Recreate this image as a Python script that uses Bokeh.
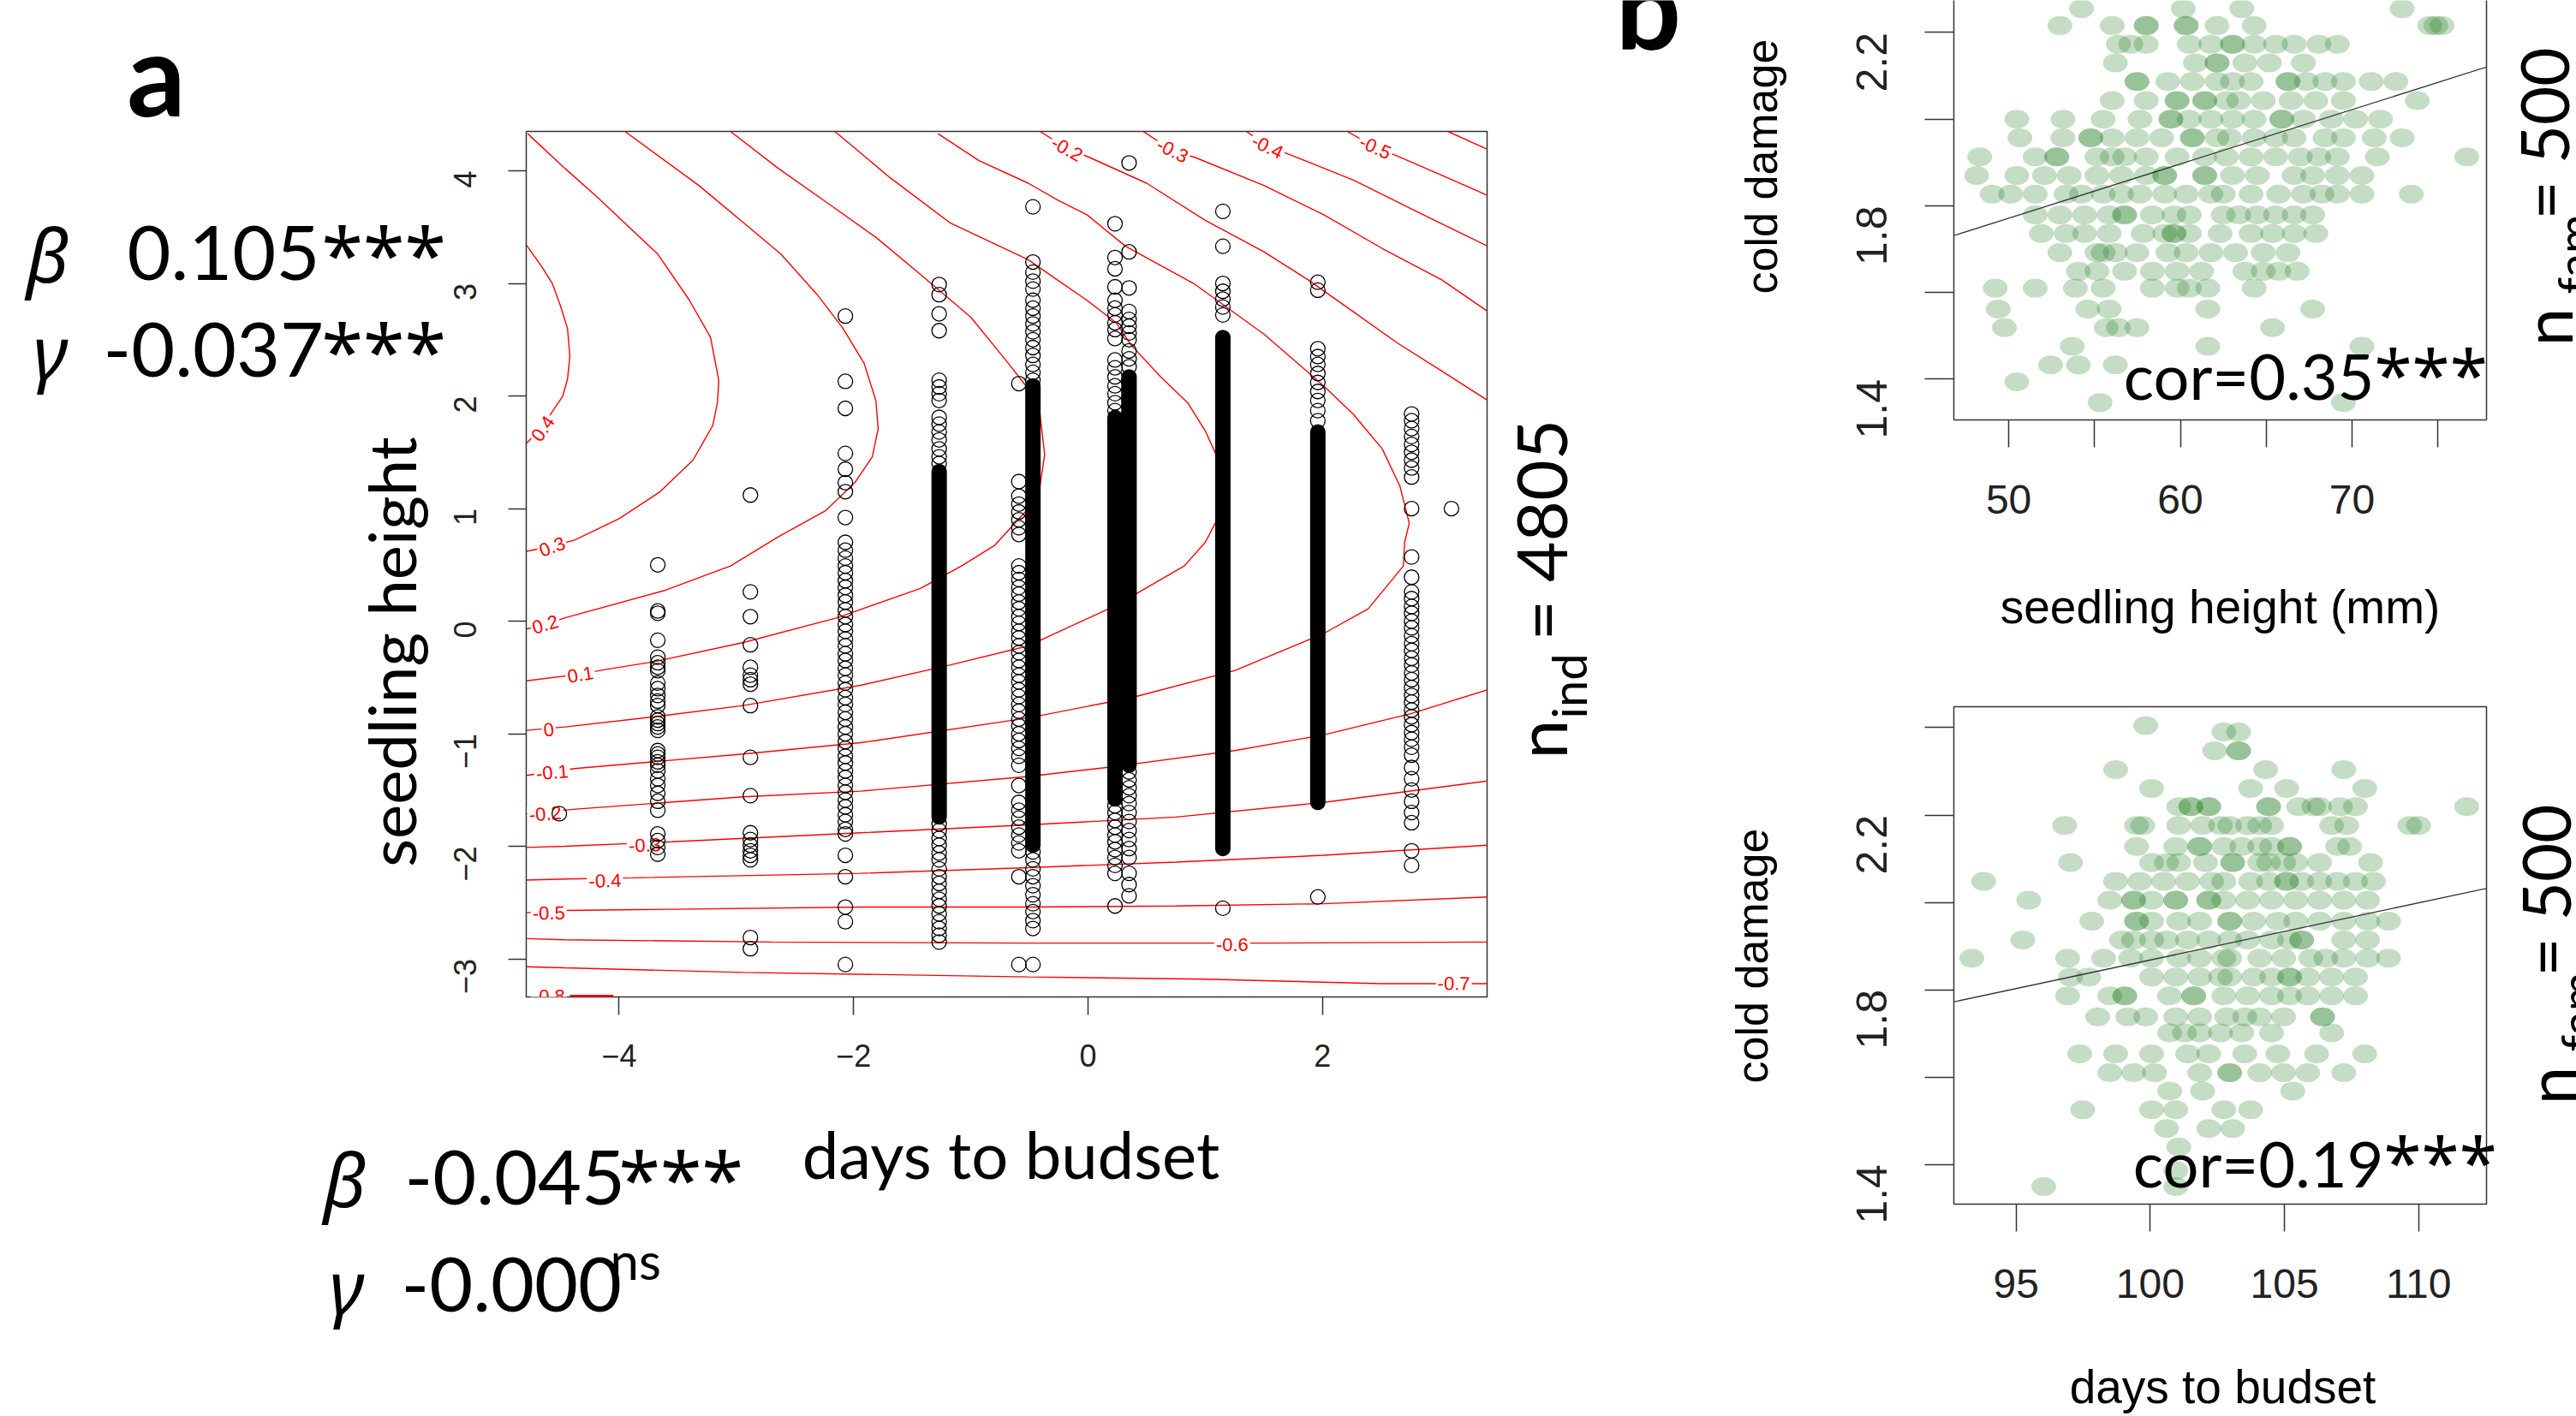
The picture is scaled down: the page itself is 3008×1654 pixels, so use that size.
import math
from bokeh.plotting import figure
from bokeh.models import FixedTicker, LinearAxis, Slope, GridBox, ColumnDataSource
from bokeh.layouts import row, column
from bokeh.embed import file_html
from bokeh.resources import INLINE
from bokeh.core.properties import value

# ---------------- Panel a : individual seedlings ----------------
a_col_x = [-4.51, -3.67, -2.88, -2.07, -1.27, -0.59, -0.47, 0.23, 0.35, 1.15, 1.96, 2.76, 3.10]
a_col_y = [
    [-1.71],
    [0.50, 0.09, 0.07, -0.17, -0.32, -0.37, -0.41, -0.44, -0.55, -0.60, -0.66, -0.71, -0.75, -0.85, -0.88,
     -0.91, -0.94, -0.97, -1.15, -1.18, -1.21, -1.25, -1.28, -1.33, -1.40, -1.46, -1.53, -1.60, -1.68,
     -1.89, -1.95, -2.01, -2.07],
    [1.12, 0.26, 0.04, -0.21, -0.41, -0.48, -0.52, -0.56, -0.75, -1.21, -1.55, -1.88, -1.94, -1.99, -2.04,
     -2.08, -2.12, -2.81, -2.91],
    [2.71, 2.13, 1.89, 1.49, 1.35, 1.23, 1.15, 0.92, 0.70, 0.63, 0.56, 0.49, 0.43, 0.36, 0.30, 0.23, 0.17,
     0.10, 0.04, -0.03, -0.09, -0.16, -0.22, -0.29, -0.35, -0.42, -0.48, -0.55, -0.61, -0.68, -0.74, -0.81,
     -0.87, -0.94, -1.00, -1.07, -1.13, -1.20, -1.26, -1.33, -1.39, -1.46, -1.52, -1.59, -1.65, -1.72,
     -1.78, -1.85, -1.89, -2.08, -2.27, -2.54, -2.67, -3.05],
    [2.99, 2.90, 2.73, 2.58, 2.14, 2.08, 2.02, 1.96, 1.81, 1.75, 1.68, 1.61, 1.53, 1.46, 1.40, -1.80, -1.86,
     -1.93, -1.99, -2.06, -2.12, -2.20, -2.27, -2.33, -2.40, -2.47, -2.53, -2.60, -2.67, -2.73, -2.79, -2.85],
    [2.11, 1.24, 1.11, 1.04, 0.97, 0.90, 0.83, 0.77, 0.49, 0.43, 0.37, 0.30, 0.24, 0.17, 0.11, 0.04, -0.02,
     -0.09, -0.15, -0.22, -0.28, -0.35, -0.41, -0.48, -0.54, -0.61, -0.67, -0.74, -0.80, -0.87, -0.93,
     -1.00, -1.06, -1.13, -1.20, -1.28, -1.46, -1.61, -1.68, -1.75, -1.83, -1.90, -1.97, -2.04, -2.27, -3.05],
    [3.68, 3.19, 3.10, 3.02, 2.95, 2.85, 2.78, 2.71, 2.64, 2.57, 2.50, 2.43, 2.36, 2.28, 2.21, 2.14, -2.05,
     -2.12, -2.20, -2.27, -2.35, -2.43, -2.51, -2.58, -2.66, -2.73, -3.05],
    [3.53, 3.23, 3.13, 2.97, 2.85, 2.78, 2.72, 2.65, 2.59, 2.51, 2.32, 2.25, 2.17, 2.09, 2.02, 1.94, 1.87,
     -1.64, -1.70, -1.77, -1.83, -1.90, -1.96, -2.03, -2.10, -2.17, -2.24, -2.53],
    [4.07, 3.28, 2.96, 2.75, 2.68, 2.62, 2.56, 2.50, 2.40, 2.33, 2.26, -1.34, -1.41, -1.48, -1.55, -1.62,
     -1.70, -1.78, -1.86, -1.94, -2.02, -2.10, -2.24, -2.34, -2.44],
    [3.64, 3.33, 3.00, 2.93, 2.86, 2.79, 2.72, -2.55],
    [3.01, 2.94, 2.42, 2.35, 2.28, 2.20, 2.12, 2.04, 1.96, 1.87, 1.78, -2.45],
    [1.84, 1.78, 1.71, 1.64, 1.57, 1.50, 1.43, 1.36, 1.28, 1.00, 0.57, 0.39, 0.26, 0.20, 0.13, 0.07, 0.00,
     -0.06, -0.13, -0.20, -0.26, -0.33, -0.39, -0.46, -0.52, -0.59, -0.66, -0.72, -0.79, -0.85, -0.92,
     -0.99, -1.05, -1.12, -1.19, -1.30, -1.40, -1.50, -1.60, -1.70, -1.79, -2.04, -2.17],
    [1.00],
]
# stretches where the circles overlap into a solid black bar
a_dense_x = [-1.27, -0.47, 0.23, 0.35, 1.15, 1.96]
a_dense_lo = [-1.74, -1.99, -1.58, -1.28, -2.02, -1.61]
a_dense_hi = [1.33, 2.09, 1.81, 2.17, 2.52, 1.68]

# fitness-surface contour lines (traced)
contour_xs = [
    [-4.79, -4.66, -4.57, -4.50, -4.44, -4.42, -4.44, -4.48, -4.57, -4.66, -4.79],
    [-4.78, -4.46, -4.18, -3.67, -3.40, -3.22, -3.15, -3.16, -3.20, -3.37, -3.65, -4.00, -4.38, -4.60, -4.79],
    [-3.95, -3.32, -2.94, -2.62, -2.31, -2.09, -1.91, -1.81, -1.79, -1.84, -1.99, -2.24, -2.64, -3.05, -3.62,
     -4.46, -4.63, -4.79],
    [-3.05, -2.64, -2.19, -1.81, -1.43, -1.00, -0.68, -0.53, -0.41, -0.37, -0.41, -0.51, -0.80, -1.08, -1.43,
     -2.14, -2.94, -3.70, -4.12, -4.33, -4.79],
    [-2.16, -1.69, -1.18, -0.51, -0.26, -0.01, 0.24, 0.37, 0.62, 0.85, 1.00, 1.10, 1.14, 1.10, 1.00, 0.82,
     0.24, -0.51, -1.18, -1.94, -2.94, -3.70, -4.46, -4.79],
    [-1.28, -0.93, -0.51, -0.26, -0.01, 0.32, 0.90, 1.50, 2.01, 2.26, 2.51, 2.66, 2.74, 2.70, 2.69, 2.39,
     2.01, 1.25, 0.37, -0.51, -1.94, -2.94, -4.38, -4.79],
    [-0.41, -0.18, 0.01, 0.50, 1.00, 1.50, 1.88, 2.26, 2.64, 3.02, 3.41],
    [3.41, 2.76, 2.01, 1.25, 0.24, -0.51, -1.94, -2.94, -4.37, -4.79],
    [0.47, 0.72, 0.91, 1.50, 2.01, 2.51, 3.02, 3.41],
    [3.41, 2.01, 0.75, -0.51, -1.94, -3.55, -4.46, -4.79],
    [1.35, 1.53, 1.73, 2.26, 2.76, 3.41],
    [3.41, 2.01, 0.75, -0.51, -1.94, -3.88, -4.46, -4.79],
    [2.21, 2.45, 2.64, 3.02, 3.41],
    [3.41, 2.01, 0.75, -0.51, -1.94, -4.46, -4.79],
    [3.07, 3.41],
    [3.41, 1.50, -0.51, -2.69, -4.46, -4.79],
    [3.41, 2.51, 1.00, -0.51, -2.94, -4.46, -4.79],
]
contour_ys = [
    [3.34, 3.15, 3.00, 2.80, 2.60, 2.35, 2.15, 2.00, 1.86, 1.72, 1.58],
    [4.33, 4.02, 3.76, 3.26, 2.85, 2.52, 2.14, 1.95, 1.74, 1.43, 1.15, 0.91, 0.72, 0.66, 0.62],
    [4.35, 3.87, 3.54, 3.26, 2.90, 2.60, 2.29, 1.96, 1.71, 1.46, 1.23, 0.98, 0.75, 0.49, 0.27, 0.03, -0.03, -0.07],
    [4.35, 4.02, 3.69, 3.41, 3.08, 2.70, 2.29, 2.09, 1.84, 1.48, 1.20, 1.00, 0.67, 0.49, 0.29, 0.03, -0.19,
     -0.36, -0.43, -0.47, -0.53],
    [4.35, 3.94, 3.54, 3.21, 3.03, 2.85, 2.65, 2.45, 2.17, 1.94, 1.69, 1.46, 1.18, 0.90, 0.70, 0.49, 0.14,
     -0.22, -0.39, -0.57, -0.75, -0.85, -0.94, -0.97],
    [4.33, 4.09, 3.89, 3.74, 3.61, 3.33, 3.00, 2.55, 2.09, 1.84, 1.53, 1.20, 0.87, 0.70, 0.49, 0.11, -0.11,
     -0.44, -0.68, -0.86, -1.08, -1.18, -1.31, -1.37],
    [4.35, 4.20, 4.12, 3.89, 3.56, 3.28, 3.03, 2.75, 2.47, 2.22, 1.96],
    [-0.61, -0.82, -1.01, -1.15, -1.29, -1.38, -1.51, -1.56, -1.67, -1.71],
    [4.35, 4.18, 4.12, 3.87, 3.61, 3.31, 3.03, 2.75],
    [-1.42, -1.61, -1.74, -1.81, -1.88, -1.96, -2.00, -2.01],
    [4.35, 4.22, 4.14, 3.92, 3.66, 3.33],
    [-1.99, -2.08, -2.14, -2.19, -2.24, -2.28, -2.29, -2.30],
    [4.35, 4.21, 4.13, 3.96, 3.78],
    [-2.45, -2.51, -2.53, -2.54, -2.54, -2.57, -2.59],
    [4.35, 4.19],
    [-2.85, -2.86, -2.86, -2.85, -2.83, -2.82],
    [-3.22, -3.22, -3.18, -3.16, -3.12, -3.08, -3.07],
]
contour_bottom_x = [-4.42, -4.05]
contour_bottom_y = [-3.33, -3.33]

clab_text = ["0.4", "0.3", "0.2", "0.1", "0", "-0.1", "-0.2", "-0.3", "-0.4", "-0.5", "-0.6", "-0.7", "-0.8",
             "-0.2", "-0.3", "-0.4", "-0.5"]
clab_x = [-4.65, -4.57, -4.63, -4.33, -4.60, -4.57, -4.63, -3.78, -4.12, -4.60, 1.23, 3.12, -4.60,
          -0.18, 0.72, 1.53, 2.45]
clab_y = [1.71, 0.66, -0.03, -0.475, -0.964, -1.344, -1.711, -1.99, -2.307, -2.593, -2.877, -3.219, -3.327,
          4.195, 4.18, 4.215, 4.208]
clab_angle = [0.95, 0.35, 0.28, 0.17, 0.11, 0.09, 0.08, 0.045, 0.035, 0.02, 0.0, -0.01, 0.0,
              -0.5, -0.47, -0.45, -0.42]

a_xticks = [-4, -2, 0, 2]
a_yticks = [-3, -2, -1, 0, 1, 2, 3, 4]

# ---------------- Panel b : family means ----------------
b1_row_y = [2.255, 2.216, 2.173, 2.130, 2.087, 2.043, 2.000, 1.957, 1.913, 1.870, 1.827, 1.779, 1.736,
            1.692, 1.649, 1.610, 1.562, 1.519, 1.476, 1.433, 1.394, 1.346]
b1_row_x = [
    [54.24, 60.17, 63.58, 72.92],
    [52.98, 56.03, 58.01, 58.01, 60.34, 60.34, 62.14, 64.30, 74.53, 74.89, 75.25],
    [56.39, 57.11, 58.01, 60.52, 61.78, 63.04, 63.04, 64.30, 65.55, 66.63, 68.07, 69.15],
    [56.21, 60.88, 62.14, 62.14, 63.76, 65.19, 67.17],
    [57.47, 57.47, 59.27, 60.70, 62.14, 63.04, 64.12, 66.27, 66.27, 67.35, 68.43, 69.50, 71.12, 72.56],
    [56.03, 58.01, 59.81, 59.81, 61.42, 61.42, 62.68, 63.40, 64.83, 66.45, 67.89, 69.50, 73.81],
    [50.47, 53.16, 55.50, 57.65, 59.45, 59.45, 60.52, 61.78, 63.04, 64.30, 65.91, 65.91, 67.17, 68.79,
     70.22, 71.66],
    [50.65, 53.16, 54.78, 54.78, 56.03, 57.47, 58.91, 60.70, 60.70, 62.14, 62.86, 64.30, 65.55, 66.63,
     68.43, 69.50, 71.30, 72.92],
    [48.31, 51.54, 52.80, 52.80, 55.14, 56.03, 56.75, 58.01, 59.81, 61.42, 62.68, 64.12, 65.55, 66.99,
     68.07, 69.15, 71.48, 76.69],
    [48.13, 50.47, 52.08, 53.52, 55.14, 56.57, 58.01, 59.09, 59.09, 61.42, 61.42, 63.04, 64.48, 66.63,
     67.71, 69.15, 70.58],
    [49.03, 50.11, 51.54, 53.34, 54.24, 55.50, 56.57, 57.65, 59.09, 60.34, 61.78, 62.50, 64.12, 65.73,
     67.17, 68.25, 69.15, 70.58, 73.46],
    [51.54, 52.98, 54.42, 55.85, 56.75, 56.75, 58.37, 59.63, 60.52, 62.50, 63.40, 64.48, 65.55, 66.63, 67.71],
    [51.90, 53.34, 54.42, 55.85, 57.83, 59.09, 59.63, 59.63, 60.52, 62.32, 64.12, 65.37, 66.63, 67.89],
    [52.98, 55.14, 55.50, 56.21, 57.47, 59.27, 60.34, 61.78, 63.22, 64.83, 66.27],
    [54.06, 55.14, 56.75, 58.37, 59.81, 61.24, 63.76, 64.83, 65.73, 66.81],
    [49.21, 51.54, 53.88, 55.50, 58.37, 59.81, 60.52, 61.60, 64.30],
    [49.39, 54.60, 55.85, 61.60, 67.71],
    [49.75, 55.68, 56.39, 57.47, 65.37],
    [53.70, 61.60, 70.58],
    [52.44, 54.06, 56.21],
    [50.47],
    [55.32, 69.50],
]
b1_fit = (1.145, 0.01253)          # intercept, slope of the drawn regression line
b1_xticks, b1_xminor = [50, 60, 70], [55, 65, 75]

b2_row_y = [2.405, 2.390, 2.347, 2.304, 2.261, 2.219, 2.176, 2.128, 2.091, 2.048, 2.005, 1.957, 1.914,
            1.872, 1.829, 1.786, 1.738, 1.701, 1.653, 1.610, 1.568, 1.525, 1.482, 1.440, 1.386, 1.349]
b2_row_x = [
    [99.83],
    [102.74, 103.29],
    [102.40, 103.29, 103.29],
    [98.71, 104.30, 107.21],
    [100.05, 103.74, 105.08, 107.99],
    [101.06, 101.51, 101.51, 102.18, 102.18, 104.41, 104.41, 105.53, 106.09, 106.31, 107.09, 107.65, 111.79],
    [96.81, 99.49, 99.72, 101.06, 101.95, 102.62, 102.96, 103.63, 104.08, 104.52, 106.76, 107.32, 109.67, 110.00],
    [99.49, 100.95, 101.84, 101.84, 102.74, 103.41, 104.08, 104.52, 105.19, 105.19, 106.98, 107.43],
    [97.03, 100.05, 100.61, 101.06, 102.06, 103.07, 103.07, 104.08, 104.41, 104.97, 105.42, 106.31, 108.21],
    [93.79, 98.71, 99.61, 100.50, 101.39, 102.29, 102.74, 103.74, 104.41, 105.08, 105.08, 105.64, 106.31,
     106.98, 107.65, 108.32],
    [95.47, 98.49, 99.38, 99.38, 100.05, 100.95, 100.95, 102.18, 102.18, 102.74, 103.63, 104.52, 105.42,
     106.31, 107.21, 108.10],
    [97.82, 99.49, 99.49, 100.05, 101.06, 101.84, 102.96, 102.96, 103.85, 104.75, 105.42, 106.31, 107.21,
     108.10, 108.88],
    [95.25, 98.93, 99.38, 100.05, 100.61, 101.39, 102.18, 102.96, 103.63, 104.52, 105.19, 105.64, 105.64,
     107.21, 108.10],
    [93.35, 96.92, 98.26, 99.27, 100.05, 101.06, 101.84, 102.74, 102.96, 104.08, 104.97, 105.98, 106.54,
     107.21, 108.10, 108.88],
    [97.03, 97.71, 100.05, 100.95, 101.84, 102.62, 102.96, 103.85, 104.52, 105.19, 105.19, 105.87, 106.76, 107.65],
    [96.92, 98.49, 99.05, 99.05, 100.72, 101.62, 101.62, 102.74, 103.63, 104.52, 105.19, 105.87, 106.76, 107.65],
    [98.04, 99.16, 99.83, 100.95, 101.84, 102.85, 103.52, 104.08, 104.97, 106.42, 106.42],
    [100.72, 101.28, 101.84, 102.62, 103.41, 104.52, 106.76],
    [97.37, 98.71, 100.05, 101.39, 102.18, 103.52, 104.75, 106.20, 107.99],
    [98.49, 99.38, 100.16, 101.84, 102.96, 102.96, 104.08, 104.97, 105.87, 107.21],
    [100.72, 101.95, 105.31],
    [97.48, 100.05, 100.95, 102.74, 103.74],
    [100.61, 102.18, 103.07],
    [101.06],
    [100.95],
    [96.03, 100.95],
]
b2_fit = (0.559, 0.01309)
b2_xticks = [95, 100, 105, 110]
b_yticks, b_yminor = [1.4, 1.8, 2.2], [1.6, 2.0, 2.4]

# ---------------- free texts (baseline position in page px from top-left) ----------------
CAL, ARIAL, GREEK = "Lato", "Liberation Sans", "Noto Sans"
R90 = math.pi / 2
txt = [  # (X, Y, text, size, font, style, align, angle)
    (182, 133, "a", 135, CAL, "bold", "center", 0),
    (30, 328, "β", 86, GREEK, "italic", "left", 0),
    (148, 328, "0.105", 88, CAL, "normal", "left", 0),
    (375, 328, "***", 88, GREEK, "normal", "left", 0),
    (38, 441, "γ", 86, GREEK, "italic", "left", 0),
    (120, 441, "-0.037", 88, CAL, "normal", "left", 0),
    (375, 441, "***", 88, GREEK, "normal", "left", 0),
    (377, 1408, "β", 86, GREEK, "italic", "left", 0),
    (472, 1408, "-0.045", 88, CAL, "normal", "left", 0),
    (722, 1408, "***", 88, GREEK, "normal", "left", 0),
    (384, 1533, "γ", 86, GREEK, "italic", "left", 0),
    (468, 1533, "-0.000", 88, CAL, "normal", "left", 0),
    (712, 1494, "ns", 60, CAL, "normal", "left", 0),
    (1180, 1375, "days to budset", 76, CAL, "normal", "center", 0),
    (484, 761, "seedling height", 76, CAL, "normal", "center", R90),
    (1828, 886, "n", 82, CAL, "normal", "left", R90),
    (1852, 839, "ind", 56, CAL, "normal", "left", R90),
    (1828, 748, "= 4805", 82, CAL, "normal", "left", R90),
    (1886, 55, "b", 135, CAL, "bold", "left", 0),
    (2076, 194, "cold damage", 52, ARIAL, "normal", "center", R90),
    (2592, 729, "seedling height (mm)", 55, ARIAL, "normal", "center", 0),
    (2772, 465, "cor=0.35", 74, CAL, "normal", "right", 0),
    (2772, 465, "***", 80, GREEK, "normal", "left", 0),
    (3002, 404, "n", 80, CAL, "normal", "left", R90),
    (3026, 343, "fam", 56, CAL, "normal", "left", R90),
    (2998, 256, "= 500", 78, CAL, "normal", "left", R90),
    (2065, 1116, "cold damage", 52, ARIAL, "normal", "center", R90),
    (2595, 1640, "days to budset", 55, ARIAL, "normal", "center", 0),
    (2783, 1385, "cor=0.19", 74, CAL, "normal", "right", 0),
    (2783, 1385, "***", 80, GREEK, "normal", "left", 0),
    (3006, 1290, "n", 80, CAL, "normal", "left", R90),
    (3030, 1228, "fam", 56, CAL, "normal", "left", R90),
    (3000, 1140, "= 500", 78, CAL, "normal", "left", R90),
]
MID = 0.37   # distance baseline -> middle of the text box, in em

# ---------------- layout constants ----------------
W, H = 3008, 1654
A_XR, A_YR = (-4.792, 3.404), (-3.338, 4.350)
B1_XR, B1_YR = (46.8, 77.84), (1.306, 2.274)
B2_XR, B2_YR = (92.68, 112.53), (1.309, 2.448)
INK = "#222222"


def make_fig(w, h, xr, yr, ml, mr, mt, mb):
    p = figure(width=w, height=h, x_range=xr, y_range=yr, min_border_left=ml, min_border_right=mr,
               min_border_top=mt, min_border_bottom=mb, output_backend="svg", toolbar_location=None,
               title=None)
    p.xgrid.visible = False
    p.ygrid.visible = False
    p.background_fill_color = "white"
    p.border_fill_color = "white"
    p.outline_line_color = "#333333"
    p.outline_line_width = 1.5
    return p


def style_axis(ax, size, tick_out, standoff, orient=None):
    ax.major_tick_out = tick_out
    ax.major_tick_in = 0
    ax.minor_tick_out = tick_out
    ax.minor_tick_in = 0
    ax.major_tick_line_color = "#333333"
    ax.major_tick_line_width = 1.5
    ax.minor_tick_line_color = "#333333"
    ax.minor_tick_line_width = 1.5
    ax.major_label_text_font = ARIAL
    ax.major_label_text_font_size = f"{size}px"
    ax.major_label_text_color = INK
    ax.major_label_standoff = standoff
    ax.axis_line_color = None
    if orient is not None:
        ax.major_label_orientation = orient


# ================= Panel a =================
pa = make_fig(1980, H, A_XR, A_YR, 614, 244, 153, 490)
pa.xaxis.ticker = FixedTicker(ticks=a_xticks)
pa.yaxis.ticker = FixedTicker(ticks=a_yticks)
style_axis(pa.xaxis[0], 36, 21, 34)
style_axis(pa.yaxis[0], 36, 21, 50, R90)

pa.multi_line(xs=contour_xs, ys=contour_ys, line_color="#FF0000", line_width=1.4)
pa.line(contour_bottom_x, contour_bottom_y, line_color="#FF0000", line_width=3)
pa.text(x=clab_x, y=clab_y, text=clab_text, angle=clab_angle, text_font=value(ARIAL),
        text_font_size="22px", text_color="#FF0000", text_align="center", text_baseline="middle",
        background_fill_color="white", padding=2)

pts_x, pts_y = [], []
for cx, ys in zip(a_col_x, a_col_y):
    pts_x += [cx] * len(ys)
    pts_y += ys
pa.segment(x0=a_dense_x, y0=a_dense_lo, x1=a_dense_x, y1=a_dense_hi, line_color="black",
           line_width=18, line_cap="round")
pa.scatter(pts_x, pts_y, marker="circle", size=17, fill_color=None, line_color="black", line_width=1.3)

# ================= Panel b (top) =================
pb1 = make_fig(1028, 760, B1_XR, B1_YR, 301, 105, 0, 270)
pb1.outline_line_color = None
pb1.xaxis.ticker = FixedTicker(ticks=b1_xticks, minor_ticks=b1_xminor)
pb1.yaxis.ticker = FixedTicker(ticks=b_yticks, minor_ticks=b_yminor)
style_axis(pb1.xaxis[0], 48, 32, 44)
style_axis(pb1.yaxis[0], 50, 34, 62, R90)
for ax in (pb1.xaxis[0], pb1.yaxis[0]):
    ax.axis_line_color = "#333333"
    ax.axis_line_width = 1.5
rax = LinearAxis(ticker=FixedTicker(ticks=[]), axis_line_color="#333333", axis_line_width=1.5,
                 major_tick_line_color=None, minor_tick_line_color=None, major_label_text_font_size="0px")
pb1.add_layout(rax, "right")

b1x, b1y = [], []
for yv, xs in zip(b1_row_y, b1_row_x):
    b1x += xs
    b1y += [yv] * len(xs)
pb1.ellipse(x=b1x, y=b1y, width=29, height=22, width_units="screen", height_units="screen",
            fill_color="#147814", fill_alpha=0.25, line_color=None)
pb1.add_layout(Slope(gradient=b1_fit[1], y_intercept=b1_fit[0], line_color="#333333", line_width=1.3))

# ================= Panel b (bottom) =================
pb2 = make_fig(1028, 894, B2_XR, B2_YR, 296, 93, 65, 248)
pb2.xaxis.ticker = FixedTicker(ticks=b2_xticks)
pb2.yaxis.ticker = FixedTicker(ticks=b_yticks, minor_ticks=b_yminor)
style_axis(pb2.xaxis[0], 48, 32, 44)
style_axis(pb2.yaxis[0], 50, 34, 62, R90)

b2x, b2y = [], []
for yv, xs in zip(b2_row_y, b2_row_x):
    b2x += xs
    b2y += [yv] * len(xs)
pb2.ellipse(x=b2x, y=b2y, width=29, height=22, width_units="screen", height_units="screen",
            fill_color="#147814", fill_alpha=0.25, line_color=None)
pb2.add_layout(Slope(gradient=b2_fit[1], y_intercept=b2_fit[0], line_color="#333333", line_width=1.3))

# ================= transparent text layer over the whole page =================
pt = figure(width=W, height=H, x_range=(0, W), y_range=(0, H), min_border=0, min_border_left=0,
            min_border_right=0, min_border_top=0, min_border_bottom=0, x_axis_location=None,
            y_axis_location=None, output_backend="svg", toolbar_location=None, title=None)
pt.grid.visible = False
pt.background_fill_color = None
pt.border_fill_color = None
pt.outline_line_color = None


def anchor(t):
    X, Y, size, ang = t[0], t[1], t[3], t[7]
    if ang:                       # rotated text: glyphs grow to the left of the baseline
        return X - MID * size, H - Y
    return X, H - (Y - MID * size)


anc = [anchor(t) for t in txt]
src = ColumnDataSource(dict(
    x=[a[0] for a in anc], y=[a[1] for a in anc], text=[t[2] for t in txt],
    size=[f"{t[3]}px" for t in txt], font=[t[4] for t in txt], style=[t[5] for t in txt],
    align=[t[6] for t in txt], angle=[t[7] for t in txt]))
pt.text(x="x", y="y", text="text", text_font_size="size", text_font="font", text_font_style="style",
        text_align="align", angle="angle", text_baseline="middle", text_color="black", source=src)

main = row(pa, column(pb1, pb2))
page = GridBox(children=[(main, 0, 0), (pt, 0, 0)])
open("out.html", "w").write(file_html(page, INLINE))
